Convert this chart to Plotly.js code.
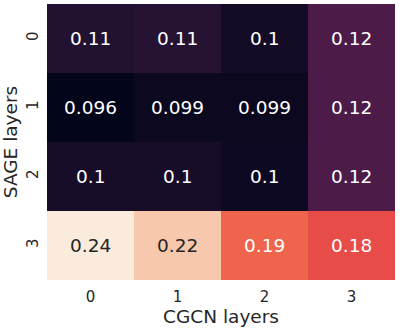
<!DOCTYPE html>
<html>
<head>
<meta charset="utf-8">
<script src="https://cdn.plot.ly/plotly-3.0.1.min.js"></script>
<style>
  body { margin: 0; background: #fff; }
  #root { width: 400px; height: 328px; }
</style>
</head>
<body>
<div id="root"></div>
<script>
// CGCN layers (columns) x SAGE layers (rows)
const cgcnLayers = ['0', '1', '2', '3'];
const sageLayers = ['0', '1', '2', '3'];

const row0 = [0.1085, 0.110, 0.103, 0.124];
const row1 = [0.096, 0.0993, 0.0992, 0.1238];
const row2 = [0.1045, 0.1045, 0.1003, 0.1242];
const row3 = [0.236, 0.2233, 0.1906, 0.1834];

const values = [row0, row1, row2, row3];

// seaborn "rocket"
const rocket = [
    [0, '#03051a'],
    [1 / 7, '#35193e'],
    [2 / 7, '#701f57'],
    [3 / 7, '#ad1759'],
    [4 / 7, '#e13342'],
    [5 / 7, '#f37651'],
    [6 / 7, '#f6b48f'],
    [1, '#faebdd']
];

const flat = values.flat();
const zmin = Math.min(...flat);
const zmax = Math.max(...flat);

// annotations, dark text on the light cells like seaborn does
const annotations = [];
for (let i = 0; i < sageLayers.length; i++) {
    for (let j = 0; j < cgcnLayers.length; j++) {
        const v = values[i][j];
        const pos = (v - zmin) / (zmax - zmin);
        annotations.push({
            x: cgcnLayers[j],
            y: sageLayers[i],
            xref: 'x',
            yref: 'y',
            text: String(Number(v.toPrecision(2))),
            showarrow: false,
            font: {
                family: 'DejaVu Sans',
                size: 18.5,
                color: pos > 0.8 ? '#262626' : '#ffffff'
            }
        });
    }
}

const data = [{
    type: 'heatmap',
    x: cgcnLayers,
    y: sageLayers,
    z: values,
    zmin: zmin,
    zmax: zmax,
    colorscale: rocket,
    showscale: false,
    xgap: 0,
    ygap: 0,
    hoverinfo: 'skip'
}];

const layout = {
    width: 400,
    height: 328,
    margin: { l: 47, r: 5, t: 4, b: 48 },
    paper_bgcolor: '#ffffff',
    plot_bgcolor: '#ffffff',
    font: { family: 'DejaVu Sans', color: '#262626' },
    xaxis: {
        type: 'category',
        title: { text: 'CGCN layers', font: { size: 18.5 }, standoff: 0 },
        tickfont: { size: 15 },
        ticks: '',
        ticklabelstandoff: 6,
        showgrid: false,
        zeroline: false,
        showline: false
    },
    yaxis: {
        type: 'category',
        autorange: 'reversed',
        title: { text: 'SAGE layers', font: { size: 18.5 }, standoff: 2 },
        tickfont: { size: 15 },
        tickangle: -90,
        ticks: '',
        ticklabelstandoff: 5,
        showgrid: false,
        zeroline: false,
        showline: false
    },
    annotations: annotations
};

Plotly.newPlot('root', data, layout, { displayModeBar: false, staticPlot: true });
</script>
</body>
</html>
